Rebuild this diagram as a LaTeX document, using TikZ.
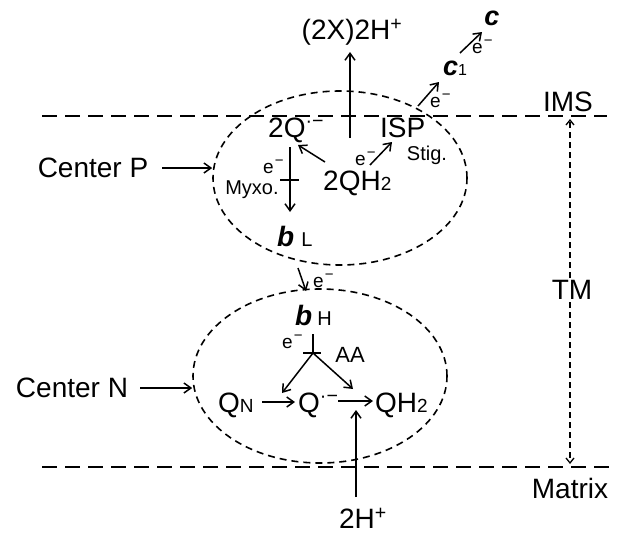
\documentclass[tikz,border=0pt]{standalone}
\usepackage{fontspec}
\setmainfont{Liberation Sans}
\usetikzlibrary{arrows.meta,shapes.geometric}
\newcommand{\elec}{e\hspace{1pt}\raisebox{8pt}{\fontsize{15}{15}\selectfont −}}
\begin{document}
\begin{tikzpicture}[x=1pt,y=-1pt,
  big/.style={font=\fontsize{28}{30}\selectfont, inner sep=0pt},
  mid/.style={font=\fontsize{20}{22}\selectfont, inner sep=0pt},
  elab/.style={font=\fontsize{19}{20}\selectfont, inner sep=0pt},
  arr/.style={line width=1.5pt, -{Straight Barb[length=7pt,width=10pt,line width=1.5pt]}},
  memb/.style={line width=2pt, dash pattern=on 15pt off 8pt},
  ell/.style={draw, ellipse, line width=1.6pt, dash pattern=on 7pt off 5pt, minimum width=254pt, minimum height=174pt, inner sep=0pt},
  tick/.style={line width=1.5pt},
  tmarr/.style={line width=1.5pt, dash pattern=on 6pt off 4pt, -{Straight Barb[length=5pt,width=8pt,line width=1.3pt]}},
]
\useasboundingbox (0,0) rectangle (619,538);
% membranes
\node[ell] (up) at (340,178) {};
\node[ell] (lo) at (320,376) {};
\coordinate (ims1) at (42,116); \coordinate (ims2) at (607,116);
\coordinate (mat1) at (42,467); \coordinate (mat2) at (612,467);
\draw[memb] (ims1) -- (ims2);
\draw[memb] (mat1) -- (mat2);
% side labels
\node[big] (imst) at (568,102) {IMS};
\node[big] (tmt) at (572,290) {TM};
\node[big] (matt) at (570,488) {Matrix};
\node[big] (cp) at (93,168) {Center P};
\node[big] (cn) at (72,388) {Center N};
% species
\node[big] (x2h) at (352,32) {(2X)2H\textsuperscript{+}};
\node[big, anchor=base west] (q2) at (268,137) {2Q\textsuperscript{·−}};
\node[big, anchor=base west] (qh2) at (323,190) {2QH{\fontsize{19}{20}\selectfont 2}};
\node[big, anchor=base west] (isp) at (380,137) {ISP};
\node[mid] (stig) at (427,155) {Stig.};
\node[mid] (myxo) at (252,190) {Myxo.};
\node[inner sep=0pt, anchor=base west] (bl) at (277,246) {\fontsize{28}{30}\selectfont\bfseries\itshape b\hspace{7pt}\normalfont\fontsize{20}{22}\selectfont L};
\node[inner sep=0pt, anchor=base west] (bh) at (295,325) {\fontsize{28}{30}\selectfont\bfseries\itshape b\hspace{5pt}\normalfont\fontsize{20}{22}\selectfont H};
\node[font=\fontsize{22}{24}\selectfont, inner sep=0pt] (aa) at (350,355) {AA};
\node[big, anchor=base west] (qn) at (218,412) {Q{\fontsize{19}{20}\selectfont N}};
\node[big, anchor=base west] (qr) at (298,412) {Q\textsuperscript{·−}};
\node[big, anchor=base west] (qh) at (375,412) {QH{\fontsize{19}{20}\selectfont 2}};
\node[big] (h2) at (363,518) {2H\textsuperscript{+}};
\node[inner sep=0pt, anchor=west] (c1) at (443,68) {\fontsize{27}{28}\selectfont\bfseries\itshape c\normalfont\fontsize{16}{18}\selectfont 1};
\node[inner sep=0pt] (cc) at (492,18) {\fontsize{27}{28}\selectfont\bfseries\itshape c};
% electron labels
\node[elab, anchor=base west] (e1) at (430,107) {\elec};
\node[elab, anchor=base west] (e2) at (472,53) {\elec};
\node[elab, anchor=base west] (e3) at (355,165) {\elec};
\node[elab, anchor=base west] (e4) at (263,173) {\elec};
\node[elab, anchor=base west] (e5) at (313,287) {\elec};
\node[elab, anchor=base west] (e6) at (282,348) {\elec};
% connector end points
\coordinate (upS) at (350,138); \coordinate (upT) at (350,52);
\coordinate (qq1) at (325,162); \coordinate (qq2) at (298,145);
\coordinate (qi1) at (370,165); \coordinate (qi2) at (392,142);
\coordinate (ic1) at (418,106); \coordinate (ic2) at (439,82);
\coordinate (cc1) at (460,53); \coordinate (cc2) at (482,32);
\coordinate (my1) at (290,147); \coordinate (my2) at (290,212);
\coordinate (myt1) at (280,180); \coordinate (myt2) at (299,180);
\coordinate (bb1) at (298,268); \coordinate (bb2) at (306,291);
\coordinate (aa1) at (313,334); \coordinate (aa2) at (313,353);
\coordinate (aat1) at (303,353); \coordinate (aat2) at (321,353);
\coordinate (aaL) at (282,393); \coordinate (aaR) at (353,389);
\coordinate (nq1) at (262,402); \coordinate (nq2) at (295,402);
\coordinate (qh1) at (338,401); \coordinate (qh2e) at (373,401);
\coordinate (hp1) at (356,497); \coordinate (hp2) at (356,410);
\coordinate (tm1) at (570,278); \coordinate (tm2) at (570,119);
\coordinate (tm3) at (570,302); \coordinate (tm4) at (570,464);
% connectors
\draw[arr, shorten <=14pt] (cp.east) -- (cp.east -| up.west);
\draw[arr, shorten <=12pt] (cn.east) -- (cn.east -| lo.west);
\draw[arr] (upS) -- (upT);
\draw[arr] (qq1) -- (qq2);
\draw[arr] (qi1) -- (qi2);
\draw[arr] (ic1) -- (ic2);
\draw[arr] (cc1) -- (cc2);
\draw[arr] (my1) -- (my2);
\draw[tick] (myt1) -- (myt2);
\draw[arr] (bb1) -- (bb2);
\draw[tick] (aa1) -- (aa2);
\draw[tick] (aat1) -- (aat2);
\draw[arr] (aa2) -- (aaL);
\draw[arr] (aa2) -- (aaR);
\draw[arr] (nq1) -- (nq2);
\draw[arr] (qh1) -- (qh2e);
\draw[arr] (hp1) -- (hp2);
\draw[tmarr] (tm1) -- (tm2);
\draw[tmarr] (tm3) -- (tm4);
\end{tikzpicture}
\end{document}
